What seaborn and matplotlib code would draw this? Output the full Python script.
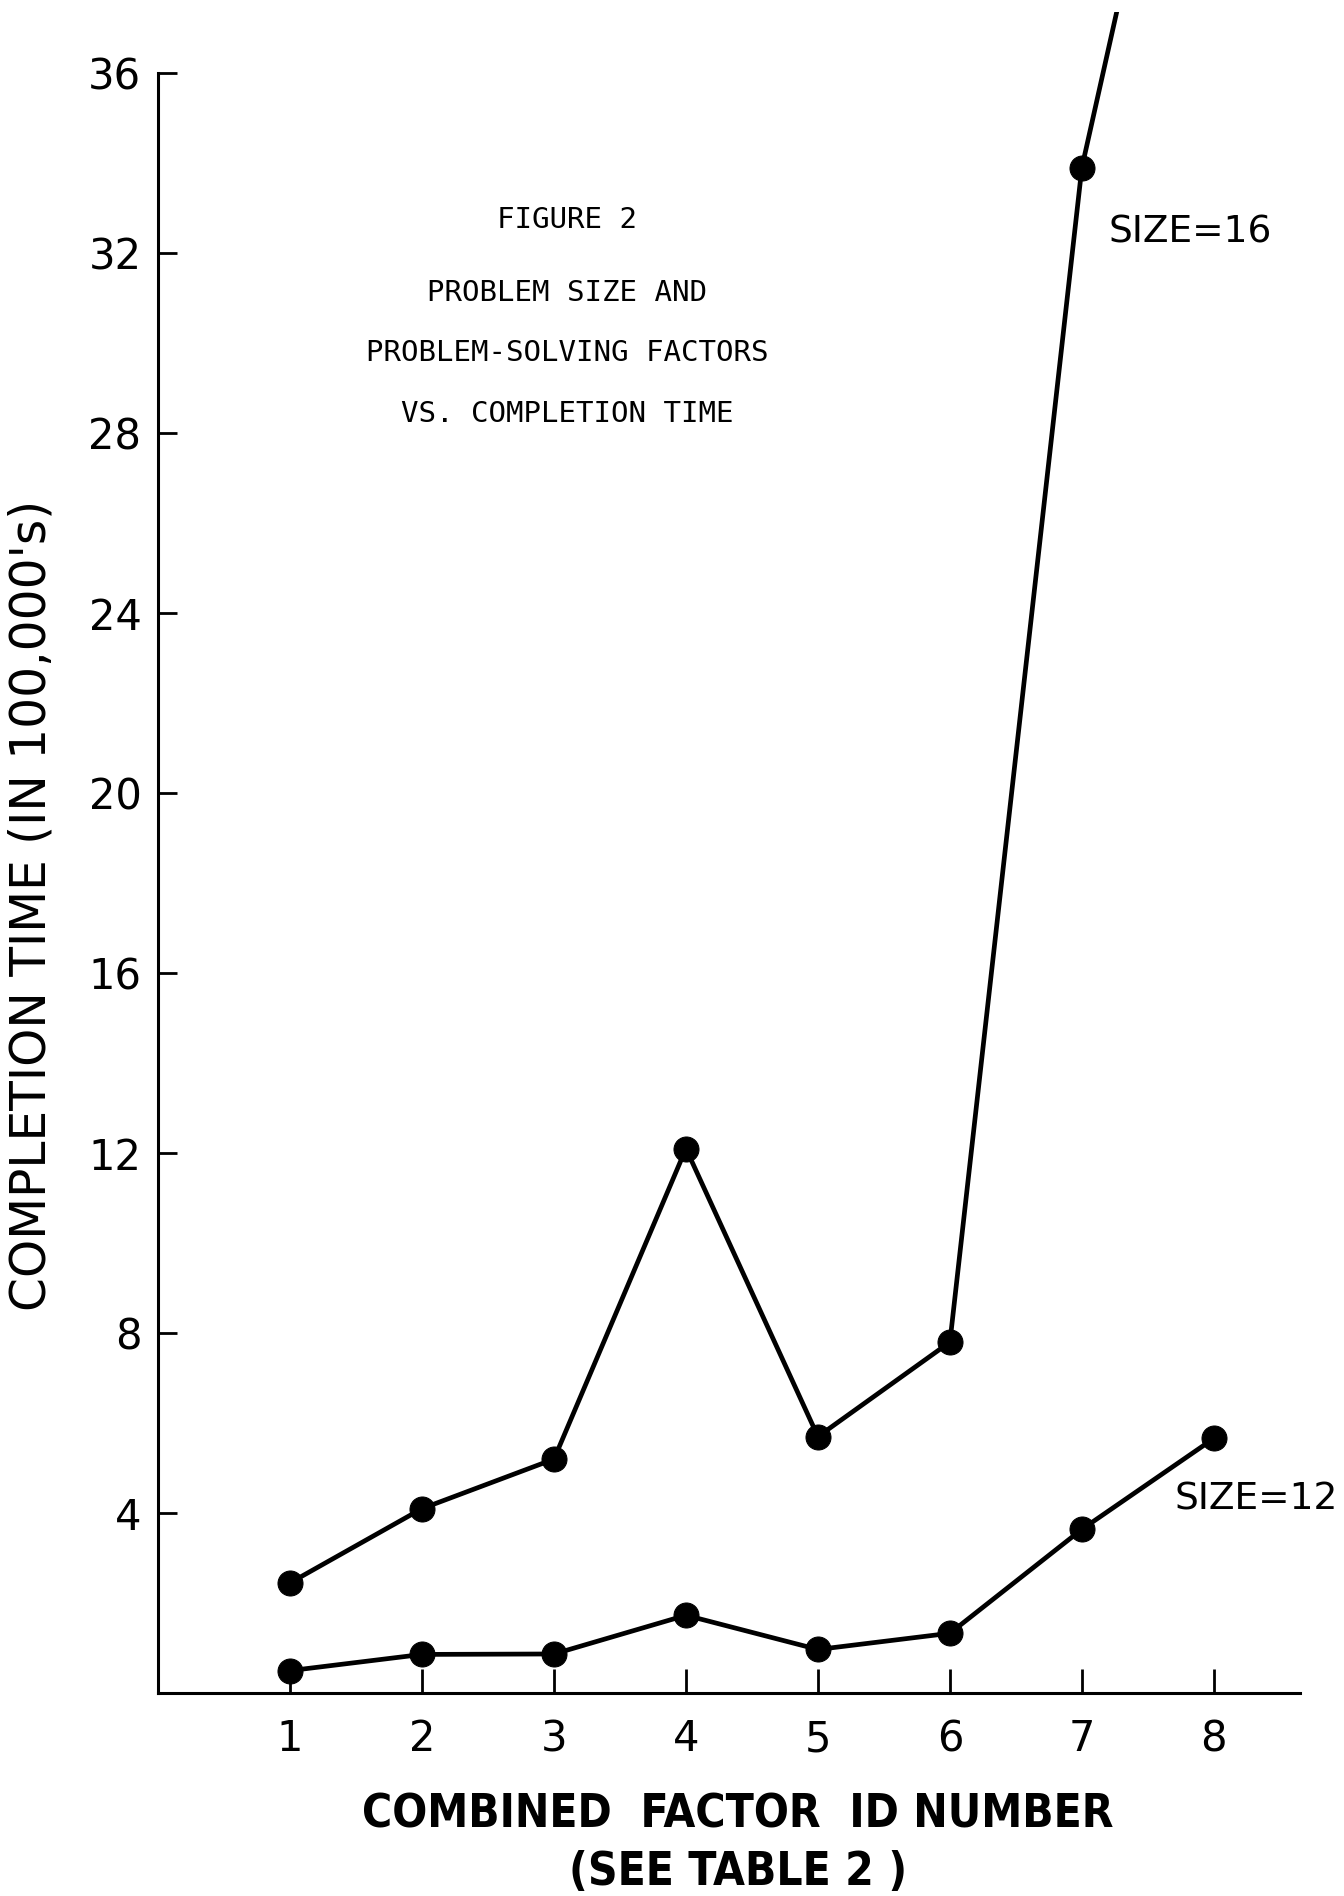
import pandas as pd
import matplotlib.pyplot as plt
import matplotlib.patches as mpatches
import seaborn as sns

# Values (completion time in 100,000's)
factor_ids = [1, 2, 3, 4, 5, 6, 7, 8]
size16_times = [2.45, 4.1, 5.2, 12.1, 5.7, 7.8, 33.9, 47.0]  # ID 8 lies off the top of the chart
size12_times = [0.5, 0.86, 0.87, 1.73, 0.97, 1.33, 3.64, 5.66]
y_ticks = [4, 8, 12, 16, 20, 24, 28, 32, 36]

df = pd.DataFrame({
    'factor': factor_ids * 2,
    'time': size16_times + size12_times,
    'size': ['SIZE=16'] * len(factor_ids) + ['SIZE=12'] * len(factor_ids),
})

sns.set_style('white')
plt.rcParams['font.family'] = ['DejaVu Sans']

fig = plt.figure(figsize=(13.44, 18.96), dpi=100)
ax = fig.add_axes([0.1176, 0.107, 0.8494, 0.8545])

sns.lineplot(data=df, x='factor', y='time', hue='size', palette=['black', 'black'],
             marker='o', markersize=18, markeredgecolor='black', linewidth=3.4,
             legend=False, ax=ax)

ax.set_xlim(0, 8.65)
ax.set_ylim(0, 36)

# let the SIZE=16 line run a little above the frame, as in the original
for line in ax.get_lines():
    if max(line.get_ydata()) > 36:
        clip = mpatches.Rectangle((0, -1), 8.65, 38.36, transform=ax.transData,
                                  facecolor='none', edgecolor='none')
        line.set_clip_path(clip)

sns.despine(ax=ax)
ax.spines['left'].set_linewidth(2.2)
ax.spines['bottom'].set_linewidth(2.2)
ax.spines['left'].set_color('black')
ax.spines['bottom'].set_color('black')

ax.set_xticks(factor_ids)
ax.set_xticklabels([str(i) for i in factor_ids])
ax.set_yticks(y_ticks)
ax.set_yticklabels([str(t) for t in y_ticks])
ax.tick_params(axis='both', direction='in', colors='black', labelsize=30, width=2,
               bottom=True, left=True)
ax.tick_params(axis='x', length=17, pad=18)
ax.tick_params(axis='y', length=14, pad=12)

ax.set_ylabel("COMPLETION TIME (IN 100,000's)", fontsize=35, color='black')
ax.yaxis.set_label_coords(-0.09, 0.486)
ax.set_xlabel('')

ax.text(0.508, -0.075, 'COMBINED  FACTOR  ID NUMBER', transform=ax.transAxes,
        ha='center', va='center', fontsize=33, fontweight='bold',
        fontstretch='condensed', color='black')
ax.text(0.508, -0.111, '(SEE TABLE 2 )', transform=ax.transAxes,
        ha='center', va='center', fontsize=33, fontweight='bold',
        fontstretch='condensed', color='black')

title_lines = ['FIGURE 2', 'PROBLEM SIZE AND', 'PROBLEM-SOLVING FACTORS', 'VS. COMPLETION TIME']
title_y = [220, 293, 353, 414]
for txt, ypx in zip(title_lines, title_y):
    fig.text(567 / 1344, 1 - ypx / 1896, txt, ha='center', va='center',
             fontsize=21, family='DejaVu Sans Mono', color='black')

ax.text(7.2, 32.45, 'SIZE=16', fontsize=27, ha='left', va='center', color='black')
ax.text(7.7, 4.3, 'SIZE=12', fontsize=27, ha='left', va='center', color='black',
        clip_on=False)

fig.savefig('out.png', dpi=100, facecolor='white')
